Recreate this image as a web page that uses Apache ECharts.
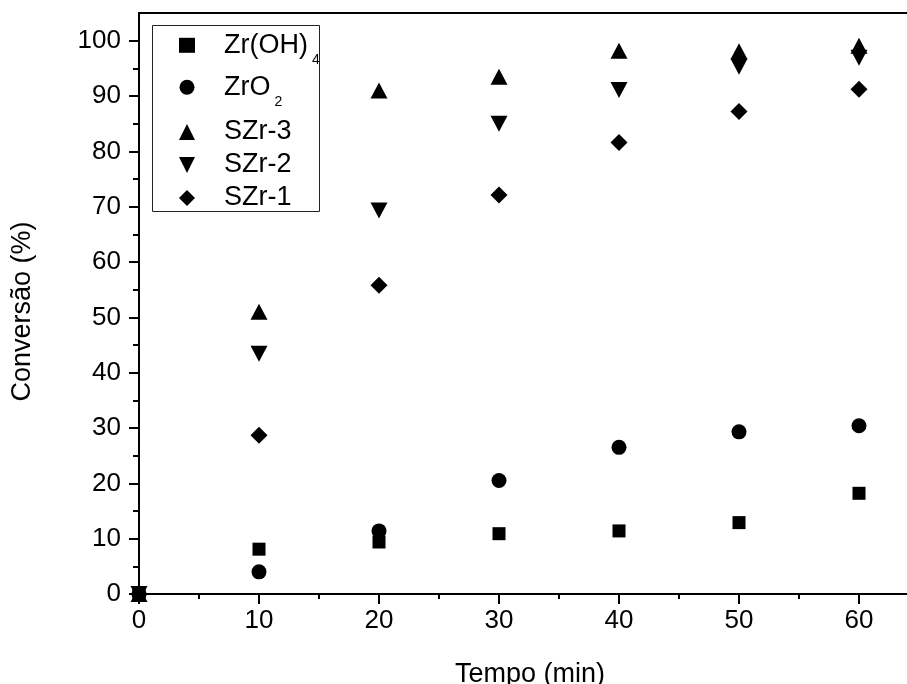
<!DOCTYPE html>
<html>
<head>
<meta charset="utf-8">
<title>Conversão x Tempo</title>
<script src="https://cdn.jsdelivr.net/npm/echarts@6/dist/echarts.min.js"></script>
<style>
  html, body { margin: 0; padding: 0; background: #fff; }
  #myChart { width: 907px; height: 684px; }
</style>
</head>
<body>
<div id="myChart"></div>
<script>
// dados
var tempo = [0, 10, 20, 30, 40, 50, 60];
var zrOH4 = [0, 8.1, 9.4, 10.9, 11.4, 12.9, 18.2];
var zrO2 = [0, 4.0, 11.4, 20.5, 26.5, 29.3, 30.4];
var szr3 = [0, 51.0, 91.0, 93.5, 98.2, 98.1, 99.1];
var szr2 = [0, 43.4, 69.3, 85.0, 91.1, 95.3, 96.9];
var szr1 = [0, 28.7, 55.8, 72.1, 81.6, 87.2, 91.2];

// marcas dos eixos
var xTicks = [0, 10, 20, 30, 40, 50, 60];
var xMinor = [5, 15, 25, 35, 45, 55];
var yTicks = [0, 10, 20, 30, 40, 50, 60, 70, 80, 90, 100];
var yMinor = [5, 15, 25, 35, 45, 55, 65, 75, 85, 95];

var FONT = 'Liberation Sans, Arial, sans-serif';

function pares(ys) {
  var out = [];
  for (var i = 0; i < tempo.length; i++) out.push([tempo[i], ys[i]]);
  return out;
}

function serie(nome, ys, simbolo, tamanho) {
  return {
    name: nome,
    type: 'scatter',
    data: pares(ys),
    symbol: simbolo,
    symbolSize: tamanho,
    itemStyle: { color: '#000', opacity: 1 },
    emphasis: { disabled: true }
  };
}

var myChart = echarts.init(document.getElementById('myChart'));

var linhaPreta = { color: '#000', width: 2 };
var semNada = { show: false };

var option = {
  backgroundColor: '#fff',
  animation: false,
  textStyle: { fontFamily: FONT },
  grid: { left: 139, top: 13, right: 0, bottom: 90, containLabel: false, outerBoundsMode: 'none' },
  // caixa da legenda
  graphic: [{
    type: 'rect',
    shape: { x: 152.5, y: 25.5, width: 167, height: 186 },
    style: { fill: 'none', stroke: '#222', lineWidth: 1 },
    z: 10
  }],
  legend: [{
    data: ['Zr(OH)4', 'ZrO2'],
    orient: 'vertical',
    left: 179, top: 23.3,
    padding: 0,
    itemWidth: 16, itemHeight: 15, itemGap: -2,
    formatter: function (n) {
      if (n === 'Zr(OH)4') return 'Zr(OH){s|4}';
      if (n === 'ZrO2') return 'ZrO{s|2}';
      return n;
    },
    textStyle: {
      color: '#000', fontSize: 27, lineHeight: 27, fontFamily: FONT, padding: [0, 0, 0, 24],
      rich: { s: { fontSize: 14, lineHeight: 10, padding: [30, 0, 0, 4], fontFamily: FONT, color: '#000' } }
    },
    z: 11
  }, {
    data: ['SZr-3', 'SZr-2', 'SZr-1'],
    orient: 'vertical',
    left: 179, top: 118.5,
    padding: 0,
    itemWidth: 16, itemHeight: 16, itemGap: 6,
    textStyle: { color: '#000', fontSize: 27, lineHeight: 27, fontFamily: FONT, padding: [0, 0, 0, 24] },
    z: 11
  }],
  xAxis: [{
    type: 'value',
    min: 0, max: 64,
    name: 'Tempo (min)',
    nameLocation: 'middle',
    nameGap: 67,
    nameTextStyle: { color: '#000', fontSize: 27, fontFamily: FONT, padding: [0, 0, 0, 14] },
    axisLine: { lineStyle: linhaPreta },
    axisTick: { show: true, length: 10, customValues: xTicks, lineStyle: linhaPreta },
    splitLine: semNada,
    axisLabel: { color: '#000', fontSize: 26, margin: 14, fontFamily: FONT, customValues: xTicks }
  }, {
    // marcas menores
    type: 'value', position: 'bottom',
    min: 0, max: 64,
    axisLine: semNada,
    axisTick: { show: true, length: 5, customValues: xMinor, lineStyle: linhaPreta },
    splitLine: semNada,
    axisLabel: semNada
  }, {
    // borda de cima
    type: 'value', position: 'top',
    min: 0, max: 64,
    axisLine: { lineStyle: linhaPreta },
    axisTick: semNada,
    splitLine: semNada,
    axisLabel: semNada
  }],
  yAxis: [{
    type: 'value',
    min: 0, max: 105,
    name: 'Conversão (%)',
    nameLocation: 'middle',
    nameGap: 103,
    nameTextStyle: { color: '#000', fontSize: 27, fontFamily: FONT, padding: [0, 16, 0, 0] },
    axisLine: { lineStyle: linhaPreta },
    axisTick: { show: true, length: 10, customValues: yTicks, lineStyle: linhaPreta },
    splitLine: semNada,
    axisLabel: { color: '#000', fontSize: 26, margin: 18, fontFamily: FONT, customValues: yTicks }
  }, {
    type: 'value', position: 'left',
    min: 0, max: 105,
    axisLine: semNada,
    axisTick: { show: true, length: 6, customValues: yMinor, lineStyle: linhaPreta },
    splitLine: semNada,
    axisLabel: semNada
  }],
  series: [
    serie('Zr(OH)4', zrOH4, 'rect', 13),
    serie('ZrO2', zrO2, 'circle', 15),
    serie('SZr-3', szr3, 'triangle', [17, 16]),
    serie('SZr-2', szr2, 'path://M0,0 L10,0 L5,10 Z', [17, 16]),
    serie('SZr-1', szr1, 'diamond', [17, 17])
  ]
};

myChart.setOption(option);
</script>
</body>
</html>
